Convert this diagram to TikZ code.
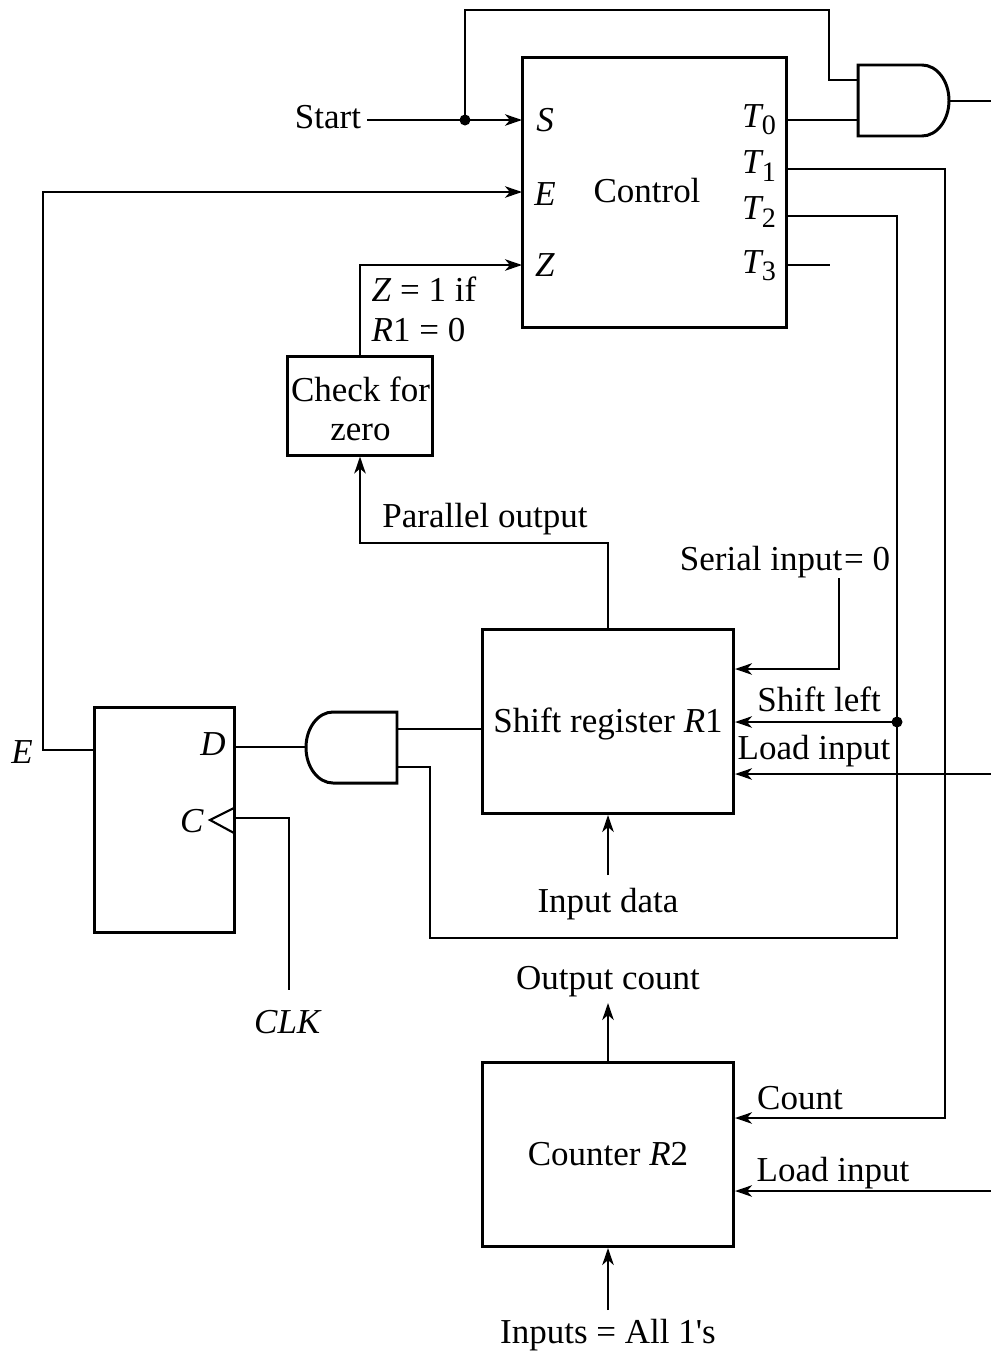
\documentclass[tikz,border=0pt]{standalone}
\usepackage{fontspec}
\setmainfont{Liberation Serif}
\usepackage{tikz}
\usetikzlibrary{arrows.meta}
\newcommand{\ivar}[1]{\textit{#1}}
\newcommand{\tsub}[1]{\textit{T}\kern-0.5pt\raisebox{-0.45ex}{\footnotesize #1}}

\begin{document}
\begin{tikzpicture}[
                x=0.01cm, y=-0.01cm, >={Stealth[length=1.7mm,width=1.15mm,inset=0.5mm]},
                blockbox/.style={rectangle, draw, line width=0.85pt, inner sep=0pt},
                textnode/.style={inner sep=0pt, font=\fontsize{9.95}{11}\selectfont, align=center},
                wire/.style={line width=0.6pt},
                gate/.style={draw, line width=0.85pt, fill=white},
                dotnode/.style={circle, fill=black, inner sep=0pt, minimum size=1.1mm},
            ]
            \useasboundingbox (0,0) rectangle (991,1351);

            % Nodes
            \node[blockbox, minimum width=2.63cm, minimum height=2.69cm] (control) at (654.5,192.5) {};
            \node[blockbox, minimum width=1.45cm, minimum height=0.98cm] (check) at (360,406) {};
            \node[blockbox, minimum width=2.51cm, minimum height=1.83cm] (shift) at (608,721.5) {};
            \node[blockbox, minimum width=1.39cm, minimum height=2.24cm] (flipflop) at (164.5,820) {};
            \node[blockbox, minimum width=2.51cm, minimum height=1.83cm] (counter) at (608,1154.5) {};

            \node[textnode] (control_text) at (647,191) {Control};
            \node[textnode] (check_text) at (360.5,409) {Check for\\[0.2pt]zero};
            \node[textnode] (shift_text) at (608,724) {Shift register \ivar{R}1};
            \node[textnode] (counter_text) at (608,1154.5) {Counter \ivar{R}2};
            \node[textnode] (start_text) at (328,117) {Start};
            \node[textnode] (s_text) at (545,120) {\ivar{S}};
            \node[textnode] (e_text) at (545,194) {\ivar{E}};
            \node[textnode] (z_text) at (545,265) {\ivar{Z}};
            \node[textnode] (t0_text) at (759,120) {\tsub{0}};
            \node[textnode] (t1_text) at (759,166) {\tsub{1}};
            \node[textnode] (t2_text) at (759,212) {\tsub{2}};
            \node[textnode] (t3_text) at (759,266) {\tsub{3}};
            \node[textnode, anchor=west] (zero_text) at (371,289) {\ivar{Z} = 1 if};
            \node[textnode, anchor=west] (r1_text) at (371,330) {\ivar{R}1 = 0};
            \node[textnode] (parallel_text) at (485,519) {Parallel output};
            \node[textnode] (serial_text) at (785,562) {Serial input\kern0.5pt= 0};
            \node[textnode] (left_text) at (819,699) {Shift left};
            \node[textnode] (load_r1_text) at (814,751) {Load input};
            \node[textnode] (ff_e_text) at (22,752) {\ivar{E}};
            \node[textnode] (d_text) at (213,744) {\ivar{D}};
            \node[textnode] (c_text) at (192,821) {\ivar{C}};
            \node[textnode] (clk_text) at (288,1022) {\ivar{CLK}};
            \node[textnode] (data_text) at (608,904) {Input data};
            \node[textnode] (count_out_text) at (608,982) {Output count};
            \node[textnode] (count_text) at (800,1098) {Count};
            \node[textnode] (load_r2_text) at (833,1173) {Load input};
            \node[textnode] (ones_text) at (608,1335) {Inputs = All 1\textquotesingle s};

            \node[dotnode] (start_dot) at (465,120) {};
            \node[dotnode] (t2_dot) at (897,722) {};

            % Pins
            \coordinate (start_pin) at (367,120);
            \coordinate (s_pin) at (522,120);
            \coordinate (e_pin) at (522,192);
            \coordinate (z_pin) at (522,265);
            \coordinate (t0_pin) at (786,120);
            \coordinate (t1_pin) at (786,169);
            \coordinate (t2_pin) at (786,216);
            \coordinate (t3_pin) at (786,265);
            \coordinate (t3_end) at (830,265);
            \coordinate (top_a) at (858,80);
            \coordinate (top_b) at (858,120);
            \coordinate (top_out) at (949,101);
            \coordinate (top_end) at (991,101);
            \coordinate (top_turn) at (829,10);
            \coordinate (low_a) at (397,729);
            \coordinate (low_b) at (397,767);
            \coordinate (low_out) at (306,747);
            \coordinate (d_pin) at (234,747);
            \coordinate (c_pin) at (234,818);
            \coordinate (c_tip) at (210,820);
            \coordinate (clk_end) at (289,990);
            \coordinate (e_out) at (95,750);
            \coordinate (e_turn) at (43,750);
            \coordinate (r1_a) at (483,729);
            \coordinate (serial_top) at (839,578);
            \coordinate (serial_in) at (735,669);
            \coordinate (left_in) at (735,722);
            \coordinate (load_r1_in) at (735,774);
            \coordinate (load_r1_end) at (991,774);
            \coordinate (data_end) at (608,875);
            \coordinate (data_in) at (608,815);
            \coordinate (parallel_turn) at (608,543);
            \coordinate (t2_turn) at (897,938);
            \coordinate (low_turn) at (430,938);
            \coordinate (t1_turn) at (945,1118);
            \coordinate (count_in) at (735,1118);
            \coordinate (load_r2_in) at (735,1191);
            \coordinate (load_r2_end) at (991,1191);
            \coordinate (out_end) at (608,1003);
            \coordinate (ones_end) at (608,1310);
            \coordinate (ones_in) at (608,1248);

            % Gates
            \draw[gate] (858,65) -- (922,65) arc[start angle=90, end angle=-90, x radius=27, y radius=-35.5] -- (858,136) -- cycle;
            \draw[gate] (397,712) -- (333,712) arc[start angle=90, end angle=270, x radius=27, y radius=-35.5] -- (397,783) -- cycle;
            \draw[wire] (234,808) -- (c_tip) -- (234,833);

            %Lines
            \draw[wire, ->] (start_pin) -- (s_pin);
            \draw[wire] (start_dot.center) |- (top_turn) |- (top_a);
            \draw[wire] (t0_pin) -- (top_b);
            \draw[wire] (top_out) -- (top_end);
            \draw[wire, ->] (e_out) -- (e_turn) |- (e_pin);
            \draw[wire, ->] (check.north) |- (z_pin);
            \draw[wire] (t3_pin) -- (t3_end);
            \draw[wire, ->] (t1_pin) -| (t1_turn) -- (count_in);
            \draw[wire] (t2_pin) -| (t2_turn) -- (low_turn) |- (low_b);
            \draw[wire, ->] (t2_dot.center) -- (left_in);
            \draw[wire, ->] (shift.north) |- (parallel_turn) -| (check.south);
            \draw[wire, ->] (serial_top) |- (serial_in);
            \draw[wire, ->] (load_r1_end) -- (load_r1_in);
            \draw[wire, ->] (data_end) -- (data_in);
            \draw[wire] (low_a) -- (r1_a);
            \draw[wire] (d_pin) -- (low_out);
            \draw[wire] (c_pin) -| (clk_end);
            \draw[wire, ->] (counter.north) -- (out_end);
            \draw[wire, ->] (load_r2_end) -- (load_r2_in);
            \draw[wire, ->] (ones_end) -- (ones_in);
        \end{tikzpicture}
\end{document}
